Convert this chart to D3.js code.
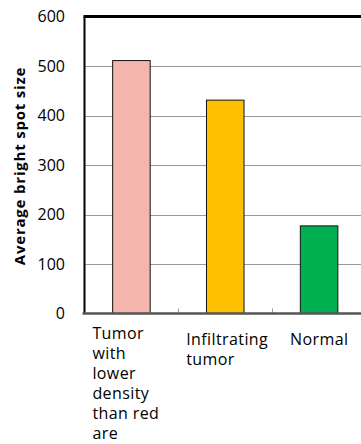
<!DOCTYPE html>
<html><head><meta charset="utf-8">
<script src="https://cdn.jsdelivr.net/npm/d3@7"></script>
<style>body{margin:0;background:#fff;overflow:hidden}svg{display:block}</style>
</head><body>
<svg id="c" width="361" height="444"></svg>
<script>
const categories = ["Tumor with lower density than red are", "Infiltrating tumor", "Normal"];
const labelLines = [["Tumor","with","lower","density","than red","are"],["Infiltrating","tumor"],["Normal"]];
const values = [511, 431, 177];
const colors = ["#F4B5AC", "#FFC000", "#00B050"];
const yTicks = [0, 100, 200, 300, 400, 500, 600];
const yTitle = "Average bright spot size";

const svg = d3.select("#c");
const m = {left: 84.5, top: 16.5, right: 366, bottom: 313.5};
const x = d3.scaleBand().domain(categories).range([m.left, m.right]).paddingInner(0).paddingOuter(0);
const y = d3.scaleLinear().domain([0, 600]).range([m.bottom, m.top]);
const font = "'Open Sans', sans-serif";

// gridlines
svg.append("g").selectAll("line").data(yTicks.filter(d => d > 0 && d < 600)).join("line")
  .attr("x1", m.left).attr("x2", m.right)
  .attr("y1", d => Math.round(y(d)) + 0.5).attr("y2", d => Math.round(y(d)) + 0.5)
  .attr("stroke", "#9a9a9a").attr("stroke-width", 1);

// bars
const bw = x.bandwidth() * 0.4;
svg.append("g").selectAll("rect").data(categories).join("rect")
  .attr("x", (d) => x(d) + (x.bandwidth() - bw) / 2)
  .attr("y", (d, i) => y(values[i]))
  .attr("width", bw)
  .attr("height", (d, i) => y(0) - y(values[i]))
  .attr("fill", (d, i) => colors[i])
  .attr("stroke", "#111").attr("stroke-width", 1);

// top border
svg.append("line").attr("x1", m.left - 1).attr("x2", m.right).attr("y1", y(600)).attr("y2", y(600))
  .attr("stroke", "#000").attr("stroke-width", 3);
// left axis
svg.append("line").attr("x1", m.left).attr("x2", m.left).attr("y1", y(600)).attr("y2", y(0))
  .attr("stroke", "#000").attr("stroke-width", 2);
// category ticks
svg.append("g").selectAll("line").data(categories.slice(1)).join("line")
  .attr("x1", d => Math.round(x(d)) + 0.5).attr("x2", d => Math.round(x(d)) + 0.5)
  .attr("y1", y(0) - 5).attr("y2", y(0))
  .attr("stroke", "#999").attr("stroke-width", 1);
// bottom axis
svg.append("line").attr("x1", m.left - 2).attr("x2", m.right).attr("y1", y(0)).attr("y2", y(0))
  .attr("stroke", "#555").attr("stroke-width", 2.5);

// y tick labels
svg.append("g").selectAll("text").data(yTicks).join("text")
  .attr("x", 65).attr("y", d => y(d)).attr("dy", "0.36em")
  .attr("text-anchor", "end").attr("font-family", font).attr("font-size", 16).attr("fill", "#000")
  .text(d => d);

// y title
svg.append("text").attr("transform", `translate(25,${(y(0)+y(600))/2 + 1}) rotate(-90)`)
  .attr("text-anchor", "middle").attr("font-family", font).attr("font-size", 15).attr("font-weight", "bold")
  .attr("letter-spacing", 0.8)
  .text(yTitle);

// category labels
const offsets = [[-39, 339], [-39, 345], [-29, 345]];
categories.forEach((c, i) => {
  const cx = x(c) + x.bandwidth() / 2;
  const t = svg.append("text").attr("font-family", font).attr("font-size", 16).attr("letter-spacing", 0.4).attr("fill", "#000");
  labelLines[i].forEach((ln, j) => {
    t.append("tspan").attr("x", cx + offsets[i][0]).attr("y", offsets[i][1] + j * 20).text(ln);
  });
});
</script>
</body></html>
